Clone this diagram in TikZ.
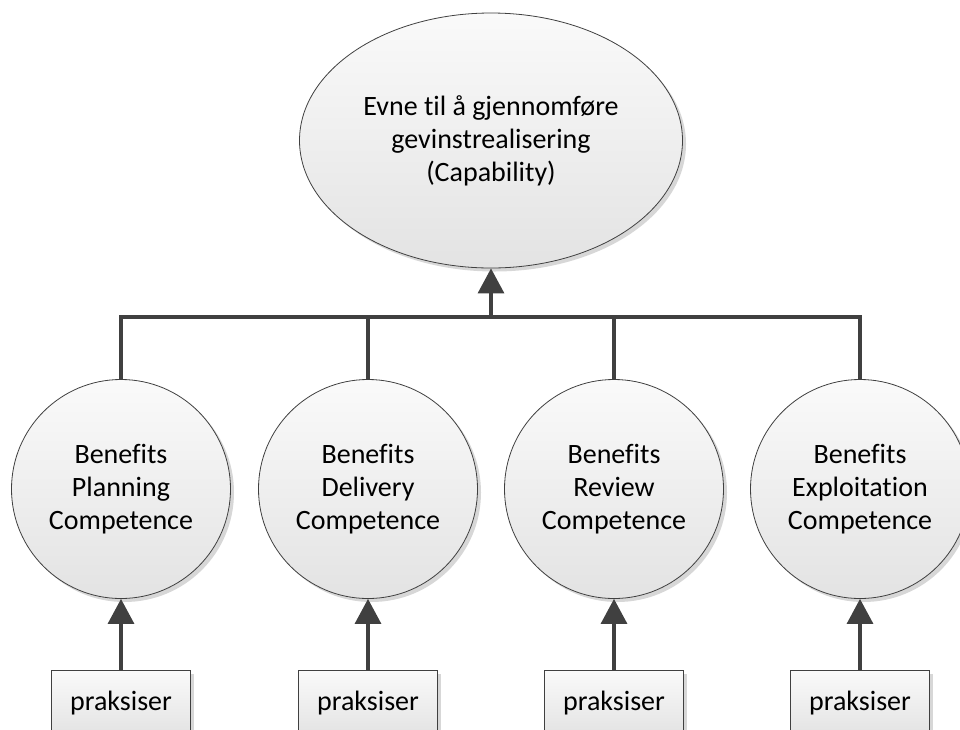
\documentclass[tikz,border=0pt]{standalone}
\usepackage{fontspec}
\setmainfont{Carlito}[Ligatures=NoCommon]
\usetikzlibrary{shapes.geometric,arrows.meta,shadows}
\definecolor{linegray}{HTML}{404040}
\tikzset{
  shapefill/.style={top color=black!2, bottom color=black!11,
    draw=black!75, line width=0.8pt,
    drop shadow={shadow xshift=3.5pt, shadow yshift=-3.5pt, fill=black!22, opacity=0.7}},
  goal/.style={shapefill, ellipse, minimum width=383pt, minimum height=255pt, inner sep=0pt,
    align=center, font=\fontsize{28}{33}\selectfont},
  competence/.style={shapefill, circle, minimum size=219pt, inner sep=0pt,
    align=center, font=\fontsize{28}{33}\selectfont},
  practice/.style={shapefill, rectangle, minimum width=139pt, minimum height=66pt, inner sep=0pt,
    font=\fontsize{28}{33}\selectfont},
  conn/.style={draw=linegray, line width=3.2pt},
  uparrow/.style={conn, -{Triangle[length=25pt,width=26pt]}}
}
\begin{document}
\begin{tikzpicture}[x=1pt,y=-1pt]
  \clip (0,0) rectangle (960,729);
  \fill[white] (0,0) rectangle (960,729);

  % top-level capability
  \node[goal] (ell) at (491,140.5) {Evne til å gjennomføre\\gevinstrealisering\\(Capability)};

  % four competences
  \node[competence] (c1) at (121,489) {Benefits\\Planning\\Competence};
  \node[competence] (c2) at (368,489) {Benefits\\Delivery\\Competence};
  \node[competence] (c3) at (614,489) {Benefits\\Review\\Competence};
  \node[competence] (c4) at (860,489) {Benefits\\Exploitation\\Competence};

  % practices feeding each competence
  \node[practice] (p1) at (121,703) {praksiser};
  \node[practice] (p2) at (368,703) {praksiser};
  \node[practice] (p3) at (614,703) {praksiser};
  \node[practice] (p4) at (860,703) {praksiser};

  % bus joining the competences to the capability
  \coordinate (bus) at (491,317);
  \draw[conn] (c1.north) |- (bus) -| (c4.north);
  \draw[conn] (c2.north) -- (c2.north |- bus);
  \draw[conn] (c3.north) -- (c3.north |- bus);
  \draw[uparrow] (bus) -- (ell.south);

  % practice arrows
  \foreach \i in {1,2,3,4}
    \draw[uparrow] (p\i.north) -- (c\i.south);
\end{tikzpicture}
\end{document}
